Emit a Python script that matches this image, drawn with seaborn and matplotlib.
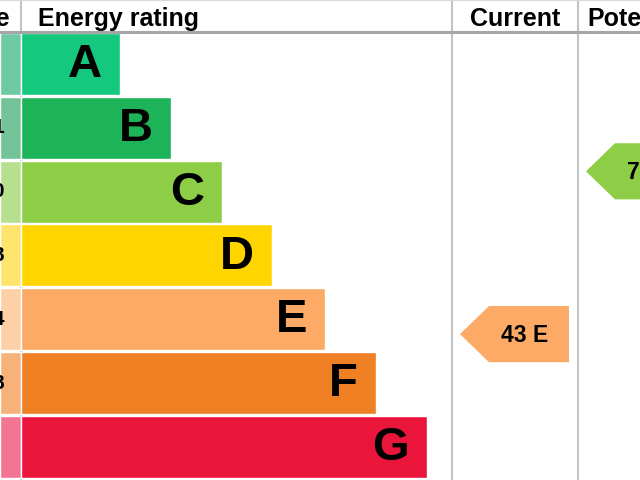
import matplotlib
matplotlib.use("Agg")
import matplotlib.pyplot as plt
from matplotlib.patches import Polygon
import seaborn as sns
import pandas as pd

sns.set_theme(style="white")
plt.rcParams['font.family'] = ['Liberation Sans', 'DejaVu Sans']
plt.rcParams['text.color'] = 'black'

# ---- data ----
bands = ["A", "B", "C", "D", "E", "F", "G"]
score_ranges = ["92+", "81-91", "69-80", "55-68", "39-54", "21-38", "1-20"]
band_low = [92, 81, 69, 55, 39, 21, 1]
band_high = [100, 91, 80, 68, 54, 38, 20]
bar_lengths = [99, 150, 201, 251, 304, 355, 406]
band_colors = ["#14c87e", "#1db459", "#8dce46", "#ffd500", "#fcaa65", "#ef8023", "#e9153b"]
pale_colors = ["#6ecaa2", "#72c498", "#b6df8e", "#ffe46c", "#fdd0a8", "#f7b27a", "#f37594"]
headers = ["Score", "Energy rating", "Current", "Potential"]
current_score, current_band = 43, "E"
potential_score, potential_band = 78, "C"

df = pd.DataFrame({"band": bands, "length": bar_lengths})

fig = plt.figure(figsize=(6.4, 4.8), dpi=100)
ax = fig.add_axes([0, 0, 1, 1])

sns.barplot(data=df, x="length", y="band", hue="band", palette=band_colors,
            orient="h", width=0.97, saturation=1, legend=False, ax=ax, zorder=3)

# pale score column
ax.barh(range(len(bands)), [21] * len(bands), left=-21, height=0.97,
        color=pale_colors, zorder=2)

ax.set_xlim(-21, 619)
ax.set_ylim(6.52, -1.003)
ax.axis("off")

# grid lines
col_cur = (431, 557)
col_pot = (557, 683)
for xv in [0, col_cur[0], col_cur[1]]:
    ax.axvline(xv, color="#c4c4c4", lw=1.5, zorder=1)
ax.axhline(-0.5, color="#a6a6a6", lw=2.2, zorder=4)
ax.axhline(-1.0, color="#d8d8d8", lw=1.5, zorder=4)

# letters in bars
for i, (b, L) in enumerate(zip(bands, bar_lengths)):
    ax.text(L - 18, i + 0.02, b, ha="right", va="center", fontsize=34,
            fontweight="bold", color="black", zorder=5)

# score ranges (mostly cropped)
for i, s in enumerate(score_ranges):
    ax.text(-43, i, s, ha="center", va="center", fontsize=15,
            fontweight="bold", color="black", zorder=5)

# headers
hy = -0.596
ax.text(-46, hy, headers[0], ha="center", va="baseline", fontsize=18, fontweight="bold")
ax.text(17, hy, headers[1], ha="left", va="baseline", fontsize=18, fontweight="bold")
ax.text(sum(col_cur) / 2, hy, headers[2], ha="center", va="baseline", fontsize=18, fontweight="bold")
ax.text(sum(col_pot) / 2 - 1, hy, headers[3], ha="center", va="baseline", fontsize=18, fontweight="bold")


def score_to_y(score, band):
    i = bands.index(band)
    frac = (band_high[i] - score) / (band_high[i] - band_low[i])
    return i - 0.5 + frac


def draw_arrow(col, score, band):
    i = bands.index(band)
    yc = score_to_y(score, band)
    h = 0.44
    tip = col[0] + 8
    sh = col[0] + 37
    right = col[1] - 9
    poly = Polygon([(tip, yc), (sh, yc - h), (right, yc - h), (right, yc + h), (sh, yc + h)],
                   closed=True, facecolor=band_colors[i], edgecolor="none", zorder=5)
    ax.add_patch(poly)
    ax.text((sh + right) / 2 - 4, yc + 0.02, f"{score} {band}", ha="center", va="center",
            fontsize=16.5, fontweight="bold", color="black", zorder=6)


draw_arrow(col_cur, current_score, current_band)
draw_arrow(col_pot, potential_score, potential_band)

fig.savefig("out.png", dpi=100)
